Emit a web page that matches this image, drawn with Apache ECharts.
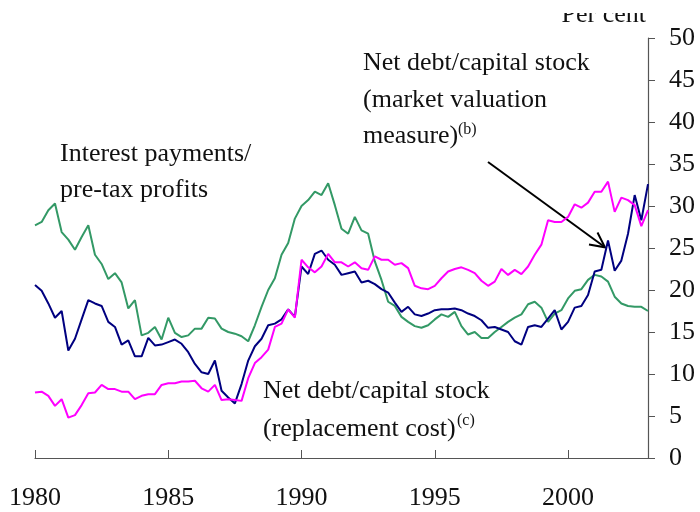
<!DOCTYPE html>
<html>
<head>
<meta charset="utf-8">
<script src="https://cdn.jsdelivr.net/npm/echarts@6/dist/echarts.min.js"></script>
<style>
  html, body { margin: 0; padding: 0; background: #fff; }
  #chart { width: 700px; height: 512px; }
</style>
</head>
<body>
<div id="chart"></div>
<script>
// quarterly, 1980 Q1 .. 2003 Q1
const startYear = 1980
const tickYears = ['1980', '1985', '1990', '1995', '2000']

// Interest payments / pre-tax profits
const interestProfits = [
  27.7, 28.1, 29.5, 30.3, 26.9, 26.0, 24.8, 26.3, 27.7, 24.2,
  23.1, 21.3, 22.0, 20.9, 17.8, 18.8, 14.6, 14.9, 15.6, 14.1,
  16.7, 14.9, 14.4, 14.6, 15.4, 15.4, 16.7, 16.6, 15.4, 15.0,
  14.8, 14.5, 13.9, 15.8, 18.0, 20.0, 21.4, 24.2, 25.6, 28.5,
  30.0, 30.7, 31.7, 31.3, 32.7, 30.1, 27.3, 26.7, 28.7, 27.1,
  26.7, 23.4, 21.2, 18.6, 18.1, 16.8, 16.2, 15.7, 15.5, 15.8,
  16.5, 17.1, 16.8, 17.4, 15.7, 14.7, 15.0, 14.3, 14.3, 15.0,
  15.6, 16.2, 16.7, 17.1, 18.3, 18.6, 17.9, 16.2, 17.2, 17.6,
  19.0, 19.9, 20.1, 21.2, 21.8, 21.6, 21.0, 19.2, 18.4, 18.1,
  18.0, 18.0, 17.5
]

// Net debt / capital stock (market valuation measure)
const debtMarket = [
  20.6, 19.9, 18.4, 16.7, 17.5, 12.8, 14.2, 16.5, 18.8, 18.4,
  18.1, 16.2, 15.6, 13.5, 14.0, 12.1, 12.1, 14.3, 13.4, 13.5,
  13.8, 14.1, 13.6, 12.6, 11.2, 10.2, 10.0, 11.6, 8.0, 7.2,
  6.5, 8.8, 11.6, 13.3, 14.2, 15.8, 16.0, 16.5, 17.7, 16.8,
  22.8, 21.9, 24.3, 24.7, 23.6, 23.0, 21.8, 22.0, 22.2, 20.9,
  21.1, 20.7, 20.1, 19.7, 18.5, 17.4, 18.0, 17.1, 16.9, 17.2,
  17.6, 17.7, 17.7, 17.8, 17.6, 17.2, 16.9, 16.4, 15.5, 15.6,
  15.3, 15.0, 13.9, 13.5, 15.6, 15.8, 15.6, 16.6, 17.6, 15.3,
  16.2, 17.9, 18.1, 19.4, 22.2, 22.4, 25.9, 22.3, 23.5, 26.7,
  31.3, 28.3, 32.6
]

// Net debt / capital stock (replacement cost)
const debtReplacement = [
  7.8, 7.9, 7.4, 6.2, 7.0, 4.8, 5.1, 6.3, 7.7, 7.8,
  8.7, 8.2, 8.2, 7.9, 7.9, 7.0, 7.4, 7.6, 7.6, 8.7,
  8.9, 8.9, 9.1, 9.1, 9.2, 8.3, 7.9, 8.7, 6.9, 7.0,
  6.9, 6.8, 9.5, 11.3, 12.0, 12.9, 15.6, 16.0, 17.7, 16.7,
  23.6, 22.7, 22.1, 22.8, 24.3, 23.3, 23.3, 22.8, 23.3, 22.6,
  22.4, 24.0, 23.6, 23.6, 23.0, 23.2, 22.6, 20.5, 20.2, 20.1,
  20.5, 21.4, 22.2, 22.5, 22.7, 22.4, 22.0, 21.1, 20.5, 21.0,
  22.5, 21.8, 22.4, 21.9, 22.8, 24.2, 25.4, 28.3, 28.1, 28.1,
  28.7, 30.2, 29.8, 30.4, 31.7, 31.7, 32.9, 29.3, 31.0, 30.7,
  30.1, 27.6, 29.5
]

const quarters = []
for (let i = 0; i < interestProfits.length; i++) {
  quarters.push((startYear + Math.floor(i / 4)) + ' Q' + (i % 4 + 1))
}

const serif = '"Liberation Serif", "DejaVu Serif", serif'
const txt = '#111'

const chart = echarts.init(document.getElementById('chart'))

const lineSeries = (name, data, color) => ({
  name: name,
  type: 'line',
  data: data,
  symbol: 'none',
  animation: false,
  lineStyle: { color: color, width: 2 }
})

chart.setOption({
  backgroundColor: '#fff',
  animation: false,
  grid: { left: 35, right: 52, top: 38, bottom: 54 },
  xAxis: {
    type: 'category',
    data: quarters,
    boundaryGap: false,
    axisLine: { lineStyle: { color: '#555', width: 1.2 } },
    axisTick: { inside: true, length: 8, interval: 19, lineStyle: { color: '#555' } },
    axisLabel: {
      interval: 19,
      margin: 27,
      fontFamily: serif,
      fontSize: 26,
      color: txt,
      formatter: v => {
        const y = v.slice(0, 4)
        return tickYears.includes(y) ? y : ''
      }
    },
    splitLine: { show: false }
  },
  yAxis: {
    type: 'value',
    position: 'right',
    min: 0,
    max: 50,
    interval: 5,
    axisLine: { show: true, lineStyle: { color: '#555', width: 1.2 } },
    axisTick: { show: true, inside: false, length: 7, lineStyle: { color: '#555' } },
    axisLabel: { margin: 21, fontFamily: serif, fontSize: 26, color: txt },
    splitLine: { show: false }
  },
  series: [
    lineSeries('Interest payments/pre-tax profits', interestProfits, '#339966'),
    lineSeries('Net debt/capital stock (market valuation measure)', debtMarket, '#000080'),
    lineSeries('Net debt/capital stock (replacement cost)', debtReplacement, '#FF00FF')
  ],
  graphic: [
    {
      type: 'text', x: 646, y: 15, z: 10,
      style: { text: 'Per cent', font: '26px ' + serif, fill: txt, textAlign: 'right', verticalAlign: 'middle' },
      silent: true
    },
    // top of the unit label is cut off in the original
    {
      type: 'rect', z: 20, silent: true,
      shape: { x: 540, y: 0, width: 120, height: 13 },
      style: { fill: '#fff' }
    },
    {
      type: 'text', x: 60, y: 136,
      style: {
        text: 'Interest payments/\npre-tax profits',
        font: '26px ' + serif, fill: txt, lineHeight: 36, verticalAlign: 'top'
      }
    },
    {
      type: 'text', x: 363, y: 45,
      style: {
        text: 'Net debt/capital stock\n(market valuation\nmeasure)',
        font: '26px ' + serif, fill: txt, lineHeight: 36.5, verticalAlign: 'top'
      }
    },
    {
      type: 'text', x: 458, y: 130,
      style: { text: '(b)', font: '16px ' + serif, fill: txt, verticalAlign: 'middle' }
    },
    {
      type: 'text', x: 263, y: 372,
      style: {
        text: 'Net debt/capital stock\n(replacement cost)',
        font: '26px ' + serif, fill: txt, lineHeight: 38, verticalAlign: 'top'
      }
    },
    {
      type: 'text', x: 457, y: 421,
      style: { text: '(c)', font: '16px ' + serif, fill: txt, verticalAlign: 'middle' }
    },
    {
      type: 'line',
      shape: { x1: 488, y1: 162, x2: 604, y2: 246.5 },
      style: { stroke: '#000', lineWidth: 2 }
    },
    {
      type: 'polyline',
      shape: { points: [[597.5, 232.5], [605, 247.3], [589, 244.5]] },
      style: { stroke: '#000', lineWidth: 2, fill: null }
    }
  ]
})
</script>
</body>
</html>
